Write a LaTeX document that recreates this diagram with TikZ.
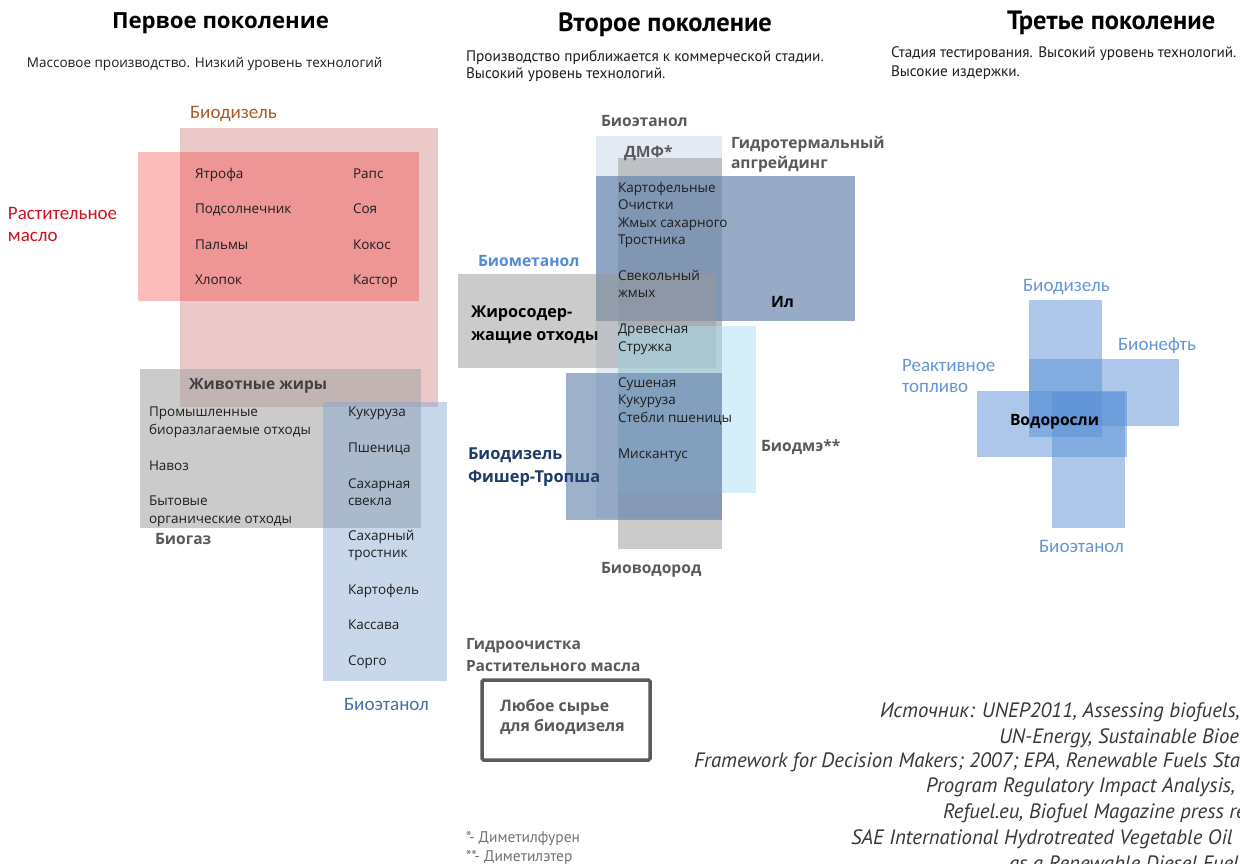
\documentclass[tikz,border=0pt]{standalone}
\usepackage{fontspec}
\setmainfont{Open Sans}
\newfontfamily\ptsans{PT Sans}
\newfontfamily\carl{Carlito}
\definecolor{pinkbd}{RGB}{236,201,201}
\definecolor{redoil}{RGB}{245,16,16}
\definecolor{grayfill}{RGB}{164,164,164}
\definecolor{bluefill}{RGB}{128,163,207}
\definecolor{lightbe}{RGB}{175,195,223}
\definecolor{midgray}{RGB}{153,153,153}
\definecolor{steel}{RGB}{100,130,170}
\definecolor{cyanfill}{RGB}{170,225,245}
\definecolor{algae}{RGB}{90,145,215}
\definecolor{brownlbl}{RGB}{170,90,40}
\definecolor{redlbl}{RGB}{204,20,30}
\definecolor{bluelbl}{RGB}{70,110,170}
\definecolor{algaelbl}{RGB}{100,150,215}
\definecolor{methlbl}{RGB}{80,140,215}
\definecolor{ftlbl}{RGB}{30,60,105}
\definecolor{graylbl}{RGB}{90,90,90}
\definecolor{txt}{RGB}{30,30,30}
\tikzset{
  lbl/.style={anchor=base west, inner sep=0pt, outer sep=0pt},
  item/.style={lbl, font=\fontsize{13.5}{16}\selectfont, text=txt},
  head/.style={lbl, font=\ptsans\bfseries\fontsize{26.5}{30}\selectfont, text=black},
  sub/.style={lbl, font=\ptsans\fontsize{15.3}{18}\selectfont, text=txt},
  clbl/.style={lbl, font=\carl\fontsize{19}{22}\selectfont},
  blbl/.style={lbl, font=\bfseries\fontsize{15.6}{18}\selectfont},
  ptb/.style={lbl, font=\bfseries\fontsize{15.5}{18}\selectfont, text=graylbl},
  foot/.style={lbl, font=\ptsans\fontsize{15.5}{18}\selectfont, text=black!55},
  src/.style={lbl, font=\ptsans\itshape\fontsize{20.8}{24}\selectfont, text=black!78},
}
\begin{document}
\begin{tikzpicture}[x=1pt,y=-1pt]
\useasboundingbox (0,0) rectangle (1240,863);
\clip (0,0) rectangle (1240,863);
\fill[white] (0,0) rectangle (1240,863);

% ---------- headings ----------
\node[lbl, font=\bfseries\fontsize{22.2}{26}\selectfont] (h1) at (112,28) {Первое поколение};
\node[head] (h2) at (558,31) {Второе поколение};
\node[head] (h3) at (1007,29) {Третье поколение};
\node[lbl, font=\fontsize{13.5}{16}\selectfont, text=txt] (s1) at (27,67.5) {Массовое производство. Низкий уровень технологий};
\node[sub] (s2a) at (466,61) {Производство приближается к коммерческой стадии.};
\node[sub] (s2b) at (466,78) {Высокий уровень технологий.};
\node[sub, font=\ptsans\fontsize{15.2}{18}\selectfont] (s3a) at (891,57) {Стадия тестирования. Высокий уровень технологий.};
\node[sub, font=\ptsans\fontsize{15.2}{18}\selectfont] (s3b) at (891,76) {Высокие издержки.};

% ---------- first generation shapes ----------
\fill[pinkbd] (180,128) rectangle (438,407);
\fill[redoil, opacity=0.28] (138,152) rectangle (419,301);
\fill[grayfill, opacity=0.56] (140,369) rectangle (421,528);
\fill[bluefill, opacity=0.43] (323,402) rectangle (447,681);

\node[clbl, text=brownlbl] (bd1) at (190,118) {Биодизель};
\node[clbl, text=redlbl] (vo1) at (8,219) {Растительное};
\node[clbl, text=redlbl] (vo2) at (8,241) {масло};
\node[item] (i1) at (195,178) {Ятрофа};
\node[item] (i2) at (195,213) {Подсолнечник};
\node[item] (i3) at (195,249) {Пальмы};
\node[item] (i4) at (195,284) {Хлопок};
\node[item] (i5) at (353,178) {Рапс};
\node[item] (i6) at (353,213) {Соя};
\node[item] (i7) at (353,249) {Кокос};
\node[item] (i8) at (353,284) {Кастор};
\node[blbl, text=black!75, font=\bfseries\fontsize{15.5}{18}\selectfont] (af) at (189,389) {Животные жиры};
\node[item] (g1) at (149,416) {Промышленные};
\node[item] (g2) at (149,434) {биоразлагаемые отходы};
\node[item] (g3) at (149,470) {Навоз};
\node[item] (g4) at (149,505) {Бытовые};
\node[item] (g5) at (149,523) {органические отходы};
\node[blbl, text=graylbl] (bg) at (155,544) {Биогаз};
\node[item] (e1) at (348,416) {Кукуруза};
\node[item] (e2) at (348,452) {Пшеница};
\node[item] (e3) at (348,488) {Сахарная};
\node[item] (e4) at (348,505) {свекла};
\node[item] (e5) at (348,540) {Сахарный};
\node[item] (e6) at (348,557) {тростник};
\node[item] (e7) at (348,594) {Картофель};
\node[item] (e8) at (348,629) {Кассава};
\node[item] (e9) at (348,665) {Сорго};
\node[clbl, text=bluelbl] (be1) at (344,710) {Биоэтанол};

% ---------- second generation shapes ----------
\fill[lightbe, opacity=0.35] (596,136) rectangle (722,518);
\fill[midgray, opacity=0.5] (618,158) rectangle (722,549);
\fill[steel, opacity=0.67] (596,176) rectangle (855,321);
\fill[midgray, opacity=0.5] (458,274) rectangle (716,368);
\fill[cyanfill, opacity=0.5] (618,326) rectangle (756,493);
\fill[steel, opacity=0.62] (566,373) rectangle (722,520);

\node[blbl, text=graylbl] (be2) at (601,126) {Биоэтанол};
\node[blbl, text=graylbl] (dmf) at (624,157) {ДМФ*};
\node[blbl, text=graylbl] (ht1) at (731,148) {Гидротермальный};
\node[blbl, text=graylbl] (ht2) at (731,168) {апгрейдинг};
\node[item] (m1) at (618,192) {Картофельные};
\node[item] (m2) at (618,209) {Очистки};
\node[item] (m3) at (618,227) {Жмых сахарного};
\node[item] (m4) at (618,244) {Тростника};
\node[item] (m5) at (618,280) {Свекольный};
\node[item] (m6) at (618,297) {жмых};
\node[item] (m7) at (618,333) {Древесная};
\node[item] (m8) at (618,351) {Стружка};
\node[item] (m9) at (618,387) {Сушеная};
\node[item] (m10) at (618,404) {Кукуруза};
\node[item] (m11) at (618,422) {Стебли пшеницы};
\node[item] (m12) at (618,458) {Мискантус};
\node[blbl, text=black] (il) at (771,307) {Ил};
\node[blbl, text=methlbl] (bm) at (478,266) {Биометанол};
\node[blbl, text=black, font=\bfseries\fontsize{16.2}{18}\selectfont] (fw1) at (471,317) {Жиросодер-};
\node[blbl, text=black, font=\bfseries\fontsize{16.2}{18}\selectfont] (fw2) at (471,340) {жащие отходы};
\node[blbl, text=ftlbl, font=\bfseries\fontsize{16.4}{18}\selectfont] (ft1) at (468,459) {Биодизель};
\node[blbl, text=ftlbl, font=\bfseries\fontsize{16.4}{18}\selectfont] (ft2) at (468,482) {Фишер-Тропша};
\node[blbl, text=graylbl] (dme) at (761,451) {Биодмэ**};
\node[blbl, text=graylbl] (bh) at (601,573) {Биоводород};
\node[ptb] (hv1) at (466,649) {Гидроочистка};
\node[ptb] (hv2) at (466,671) {Растительного масла};
\draw[draw=graylbl, line width=3.5pt, rounded corners=1.5pt] (482,680) rectangle (650,760);
\node[blbl, text=graylbl, font=\bfseries\fontsize{15.8}{18}\selectfont] (any1) at (500,711) {Любое сырье};
\node[blbl, text=graylbl, font=\bfseries\fontsize{15.8}{18}\selectfont] (any2) at (500,731) {для биодизеля};
\node[foot] (fn1) at (466,842) {*- Диметилфурен};
\node[foot] (fn2) at (466,861) {**- Диметилэтер};

% ---------- third generation shapes ----------
\fill[algae, opacity=0.5] (1029,300) rectangle (1102,437);
\fill[algae, opacity=0.5] (1029,359) rectangle (1179,426);
\fill[algae, opacity=0.5] (977,391) rectangle (1127,457);
\fill[algae, opacity=0.5] (1052,392) rectangle (1125,528);
\node[clbl, text=algaelbl] (bd3) at (1023,291) {Биодизель};
\node[clbl, text=algaelbl] (bo3) at (1118,350) {Бионефть};
\node[clbl, text=algaelbl] (jf1) at (902,371) {Реактивное};
\node[clbl, text=algaelbl] (jf2) at (902,392) {топливо};
\node[blbl, text=black] (alg) at (1010,425) {Водоросли};
\node[clbl, text=algaelbl] (be3) at (1039,552) {Биоэтанол};

% ---------- source ----------
\node[src] (r1) at (880,717) {Источник: UNEP2011, Assessing biofuels,};
\node[src] (r2) at (999,743) {UN-Energy, Sustainable Bioenergy:};
\node[src] (r3) at (694,767) {Framework for Decision Makers; 2007; EPA, Renewable Fuels Standard};
\node[src] (r4) at (926,792) {Program Regulatory Impact Analysis,};
\node[src] (r5) at (943,818) {Refuel.eu, Biofuel Magazine press release;};
\node[src] (r6) at (851,844) {SAE International Hydrotreated Vegetable Oil};
\node[src] (r7) at (1009,870) {as a Renewable Diesel Fuel};
\end{tikzpicture}
\end{document}
